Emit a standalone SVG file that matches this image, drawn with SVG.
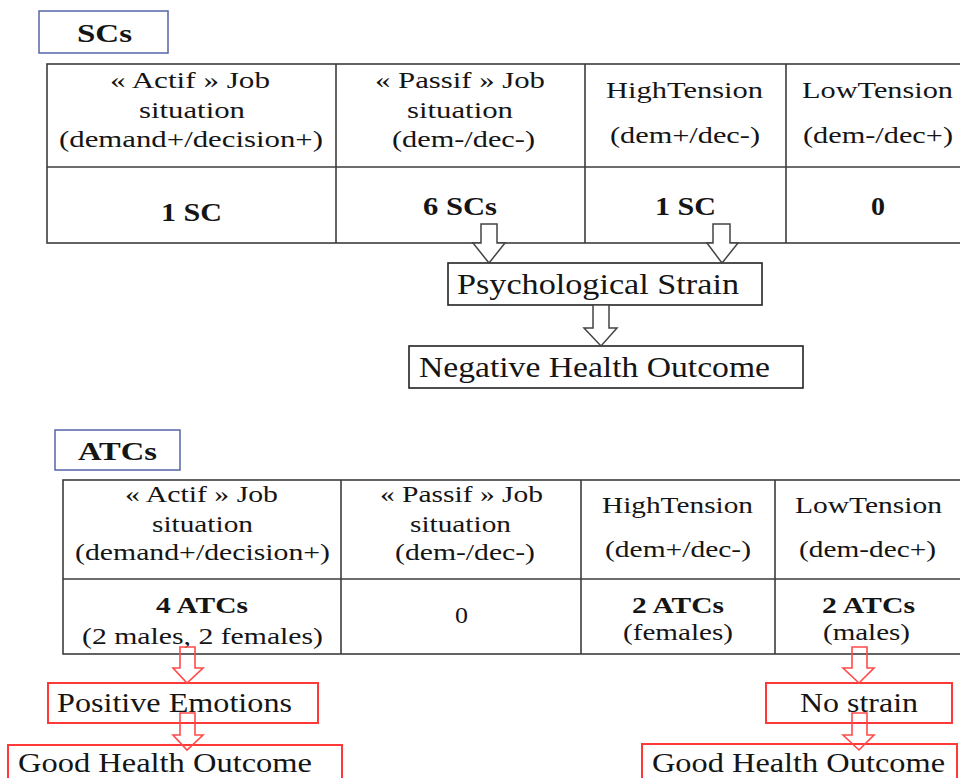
<svg xmlns="http://www.w3.org/2000/svg" width="960" height="778" viewBox="0 0 960 778">
<style>
text{font-family:"Liberation Serif","Times New Roman",serif;fill:#151515;}
.h{font-size:24px;}
.hb{font-size:23px;}
.b{font-weight:bold;}
.lbl{fill:#fff;stroke:#5565a8;stroke-width:1.5;}
.tbl{fill:#fff;stroke:#3c3c3c;stroke-width:1.6;}
.ln{stroke:#3c3c3c;stroke-width:1.6;}
.bx{fill:#fff;stroke:#222;stroke-width:1.6;}
.rbx{fill:#fff;stroke:#ff3838;stroke-width:2;}
.ar{fill:#fff;stroke:#444;stroke-width:1.5;}
.rar{fill:none;stroke:#ff4a4a;stroke-width:1.6;}
</style>
<rect width="960" height="778" fill="#fff"/>
<g id="sc-label">
<rect class="lbl" x="39" y="11" width="129" height="42"/>
<text class="b" x="77" y="42" font-size="26" textLength="55" lengthAdjust="spacingAndGlyphs">SCs</text>
</g>
<g id="sc-table">
<rect class="tbl" x="47" y="64" width="930" height="179"/>
<line class="ln" x1="47" y1="167" x2="977" y2="167"/>
<line class="ln" x1="336" y1="64" x2="336" y2="243"/>
<line class="ln" x1="585" y1="64" x2="585" y2="243"/>
<line class="ln" x1="786" y1="64" x2="786" y2="243"/>
<text class="h" x="110" y="88" textLength="160" lengthAdjust="spacingAndGlyphs">« Actif » Job</text>
<text class="h" x="139" y="118" textLength="106" lengthAdjust="spacingAndGlyphs">situation</text>
<text class="h" x="59" y="147" textLength="264" lengthAdjust="spacingAndGlyphs">(demand+/decision+)</text>
<text class="h" x="375" y="88" textLength="170" lengthAdjust="spacingAndGlyphs">« Passif » Job</text>
<text class="h" x="407" y="118" textLength="106" lengthAdjust="spacingAndGlyphs">situation</text>
<text class="h" x="392" y="147" textLength="143" lengthAdjust="spacingAndGlyphs">(dem-/dec-)</text>
<text class="h" x="606" y="98" textLength="157" lengthAdjust="spacingAndGlyphs">HighTension</text>
<text class="h" x="610" y="143" textLength="150" lengthAdjust="spacingAndGlyphs">(dem+/dec-)</text>
<text class="h" x="802" y="98" textLength="151" lengthAdjust="spacingAndGlyphs">LowTension</text>
<text class="h" x="803" y="143" textLength="150" lengthAdjust="spacingAndGlyphs">(dem-/dec+)</text>
<text class="b" font-size="26" x="161" y="221" textLength="61" lengthAdjust="spacingAndGlyphs">1 SC</text>
<text class="b" font-size="26" x="423" y="215" textLength="74" lengthAdjust="spacingAndGlyphs">6 SCs</text>
<text class="b" font-size="26" x="655" y="215" textLength="61" lengthAdjust="spacingAndGlyphs">1 SC</text>
<text class="b" font-size="26" x="871" y="215" textLength="14" lengthAdjust="spacingAndGlyphs">0</text>
</g>
<g id="psych-strain">
<rect class="bx" x="448" y="263" width="314" height="42"/>
<text font-size="30" x="457" y="294" textLength="282" lengthAdjust="spacingAndGlyphs">Psychological Strain</text>
</g>
<g id="negative-outcome">
<rect class="bx" x="409" y="346" width="394" height="42"/>
<text font-size="30" x="419" y="377" textLength="351" lengthAdjust="spacingAndGlyphs">Negative Health Outcome</text>
</g>
<g id="atc-label">
<rect class="lbl" x="55" y="430" width="125" height="40"/>
<text class="b" x="78" y="460" font-size="25" textLength="79" lengthAdjust="spacingAndGlyphs">ATCs</text>
</g>
<g id="atc-table">
<rect class="tbl" x="63" y="480" width="914" height="174"/>
<line class="ln" x1="63" y1="579" x2="977" y2="579"/>
<line class="ln" x1="341" y1="480" x2="341" y2="654"/>
<line class="ln" x1="581" y1="480" x2="581" y2="654"/>
<line class="ln" x1="775" y1="480" x2="775" y2="654"/>
<text class="hb" x="125" y="502" textLength="153" lengthAdjust="spacingAndGlyphs">« Actif » Job</text>
<text class="hb" x="152" y="532" textLength="101" lengthAdjust="spacingAndGlyphs">situation</text>
<text class="hb" x="75" y="560" textLength="255" lengthAdjust="spacingAndGlyphs">(demand+/decision+)</text>
<text class="hb" x="380" y="502" textLength="163" lengthAdjust="spacingAndGlyphs">« Passif » Job</text>
<text class="hb" x="410" y="532" textLength="101" lengthAdjust="spacingAndGlyphs">situation</text>
<text class="hb" x="395" y="560" textLength="140" lengthAdjust="spacingAndGlyphs">(dem-/dec-)</text>
<text class="hb" x="602" y="513" textLength="151" lengthAdjust="spacingAndGlyphs">HighTension</text>
<text class="hb" x="605" y="557" textLength="146" lengthAdjust="spacingAndGlyphs">(dem+/dec-)</text>
<text class="hb" x="795" y="513" textLength="147" lengthAdjust="spacingAndGlyphs">LowTension</text>
<text class="hb" x="799" y="557" textLength="137" lengthAdjust="spacingAndGlyphs">(dem-dec+)</text>
<text class="b" font-size="23" x="156" y="613" textLength="92" lengthAdjust="spacingAndGlyphs">4 ATCs</text>
<text class="hb" x="82" y="644" textLength="241" lengthAdjust="spacingAndGlyphs">(2 males, 2 females)</text>
<text class="hb" x="455" y="623" textLength="13" lengthAdjust="spacingAndGlyphs">0</text>
<text class="b" font-size="23" x="632" y="613" textLength="92" lengthAdjust="spacingAndGlyphs">2 ATCs</text>
<text class="hb" x="623" y="640" textLength="110" lengthAdjust="spacingAndGlyphs">(females)</text>
<text class="b" font-size="23" x="822" y="613" textLength="93" lengthAdjust="spacingAndGlyphs">2 ATCs</text>
<text class="hb" x="823" y="640" textLength="87" lengthAdjust="spacingAndGlyphs">(males)</text>
</g>
<g id="positive-emotions">
<rect class="rbx" x="48" y="683" width="270" height="40"/>
<text font-size="27" x="57" y="712" textLength="235" lengthAdjust="spacingAndGlyphs">Positive Emotions</text>
</g>
<g id="good-outcome-left">
<rect class="rbx" x="8" y="745" width="334" height="45"/>
<text font-size="27" x="18" y="772" textLength="294" lengthAdjust="spacingAndGlyphs">Good Health Outcome</text>
</g>
<g id="no-strain">
<rect class="rbx" x="766" y="683" width="186" height="40"/>
<text font-size="27" x="800" y="712" textLength="118" lengthAdjust="spacingAndGlyphs">No strain</text>
</g>
<g id="good-outcome-right">
<rect class="rbx" x="642" y="744" width="315" height="46"/>
<text font-size="27" x="652" y="772" textLength="293" lengthAdjust="spacingAndGlyphs">Good Health Outcome</text>
</g>
<g id="connectors">
<path class="ar" d="M481,224 H497 V243 H505 L489,263 L473,243 H481 Z"/>
<path class="ar" d="M713,224 H730 V243 H738 L722,263 L707,243 H713 Z"/>
<path class="ar" d="M593,305 H609 V328 H617 L601,346 L584,328 H593 Z"/>
<path class="rar" d="M180,647 H195 V668 H203 L187,683 L173,668 H180 Z"/>
<path class="rar" d="M180,713 H195 V735 H203 L187,750 L173,735 H180 Z"/>
<path class="rar" d="M852,647 H867 V668 H874 L859,683 L843,668 H852 Z"/>
<path class="rar" d="M852,713 H867 V735 H874 L859,750 L843,735 H852 Z"/>
</g>
</svg>
